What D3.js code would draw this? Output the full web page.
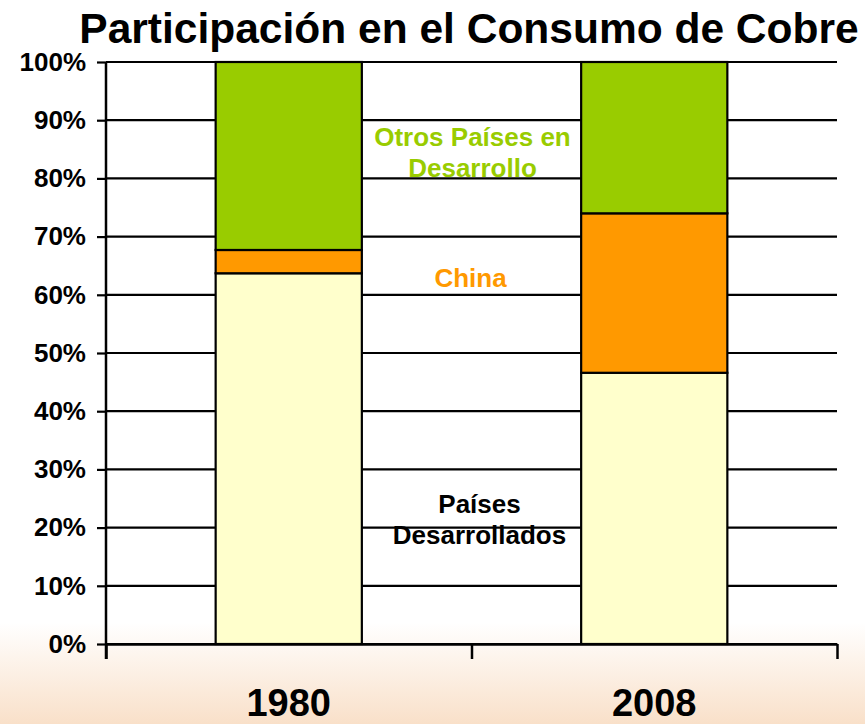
<!DOCTYPE html>
<html>
<head>
<meta charset="utf-8">
<script src="https://cdn.jsdelivr.net/npm/d3@7"></script>
<style>
    body { margin: 0; background: white; }
    text { font-family: "Liberation Sans", Arial, sans-serif; font-weight: bold; }
</style>
</head>
<body>
<svg id="chart" width="865" height="724"></svg>
<script>
    // datos (% del consumo)
    var years = ["1980", "2008"]
    var desarrollados = [63.7, 46.6]
    var china = [4.0, 27.4]
    var otros = [32.3, 26.0]
    var yTicks = [0, 10, 20, 30, 40, 50, 60, 70, 80, 90, 100]

    var seriesNames = ["Países Desarrollados", "China", "Otros Países en Desarrollo"]
    var seriesColors = ["#ffffcc", "#ff9900", "#99cc00"]

    var svg = d3.select("#chart")
    var W = 865, H = 724

    // fondo con degradado abajo
    var grad = svg.append("defs").append("linearGradient")
        .attr("id", "bg").attr("x1", 0).attr("y1", 0).attr("x2", 0).attr("y2", 1)
    grad.append("stop").attr("offset", "0.86").attr("stop-color", "#ffffff")
    grad.append("stop").attr("offset", "1").attr("stop-color", "#f9e0c9")
    svg.append("rect").attr("width", W).attr("height", H).attr("fill", "url(#bg)")

    var plotL = 106, plotR = 837, plotT = 62, plotB = 644

    var x = d3.scaleBand().domain(years).range([plotL, plotR])
        .paddingInner(0.6).paddingOuter(0.3)
    var y = d3.scaleLinear().domain([0, 100]).range([plotB, plotT])

    // lineas de grilla
    svg.append("g").selectAll("line")
        .data(yTicks)
        .enter().append("line")
        .attr("x1", plotL).attr("x2", plotR)
        .attr("y1", d => y(d)).attr("y2", d => y(d))
        .attr("stroke", "black").attr("stroke-width", 2.2)

    // barras apiladas
    var table = years.map((yr, i) => ({year: yr, d: desarrollados[i], c: china[i], o: otros[i]}))
    var stack = d3.stack().keys(["d", "c", "o"])(table)

    svg.append("g").selectAll("g")
        .data(stack)
        .enter().append("g")
        .attr("fill", (s, i) => seriesColors[i])
        .selectAll("rect")
        .data(s => s)
        .enter().append("rect")
        .attr("x", d => x(d.data.year))
        .attr("width", x.bandwidth())
        .attr("y", d => y(d[1]))
        .attr("height", d => y(d[0]) - y(d[1]))
        .attr("stroke", "black").attr("stroke-width", 2.2)

    // eje y
    var yAxis = svg.append("g")
        .attr("transform", "translate(" + plotL + ",0)")
        .call(d3.axisLeft(y).tickValues(yTicks).tickFormat(d => d + "%").tickSize(9).tickSizeOuter(0).tickPadding(11))
    yAxis.select(".domain").attr("stroke-width", 2.5).attr("d", "M0," + plotT + "V" + (plotB + 15))
    yAxis.selectAll(".tick line").attr("stroke-width", 2.2)
    yAxis.selectAll("text").attr("font-size", 26).attr("fill", "black").attr("font-weight", "bold")
        .attr("font-family", "Liberation Sans, Arial, sans-serif")

    // eje x (marcas en los limites de cada categoria)
    var xEdges = d3.scaleLinear().domain([0, years.length]).range([plotL, plotR])
    var xAxis = svg.append("g")
        .attr("transform", "translate(0," + plotB + ")")
        .call(d3.axisBottom(xEdges).ticks(years.length).tickFormat("").tickSize(15).tickSizeOuter(0))
    xAxis.select(".domain").attr("stroke-width", 2.5)
    xAxis.selectAll(".tick line").attr("stroke-width", 2.5)

    svg.append("g").selectAll("text")
        .data(years)
        .enter().append("text")
        .attr("x", d => x(d) + x.bandwidth() / 2)
        .attr("y", 716)
        .attr("text-anchor", "middle")
        .attr("font-size", 38)
        .text(d => d)

    // titulo
    svg.append("text")
        .attr("x", 469).attr("y", 43)
        .attr("text-anchor", "middle")
        .attr("font-size", 42.5)
        .text("Participación en el Consumo de Cobre")

    // etiquetas de series entre las barras
    var midX = xEdges(1)
    var labels = [
        {lines: ["Otros Países en", "Desarrollo"], v: 85.6, dx: 1, color: "#99cc00"},
        {lines: ["China"], v: 61.4, dx: -1, color: "#ff9900"},
        {lines: ["Países", "Desarrollados"], v: 22.5, dx: 8, color: "#000000"}
    ]
    labels.forEach(function(l) {
        var t = svg.append("text")
            .attr("x", midX + l.dx).attr("y", y(l.v))
            .attr("text-anchor", "middle")
            .attr("font-size", 26)
            .attr("fill", l.color)
        l.lines.forEach(function(s, i) {
            t.append("tspan").attr("x", midX + l.dx).attr("dy", i == 0 ? 0 : 31).text(s)
        })
    })
</script>
</body>
</html>
